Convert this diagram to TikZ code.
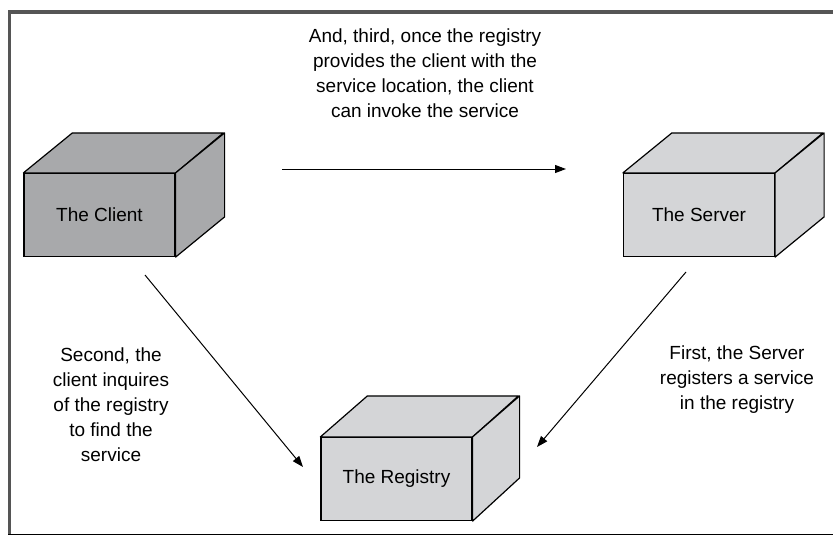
\documentclass[tikz,border=0pt]{standalone}
\usepackage{fontspec}
\setmainfont{Liberation Sans}
\usetikzlibrary{arrows.meta}
\definecolor{darkbox}{HTML}{A8A9AB}
\definecolor{lightbox}{HTML}{D4D5D7}
\definecolor{framegray}{HTML}{555555}
\tikzset{
  front/.style={draw=black, line width=1.2pt, minimum width=151pt, minimum height=83pt, inner sep=0pt, font=\fontsize{19pt}{23pt}\selectfont},
  face/.style={draw=black, line width=1.2pt, line join=round},
  conn/.style={line width=1pt, -{Triangle[length=11pt,width=8pt]}},
  caption/.style={align=center, font=\fontsize{19pt}{25pt}\selectfont, inner sep=0pt}
}
\begin{document}
\begin{tikzpicture}[x=1pt,y=-1pt]
\useasboundingbox (0,0) rectangle (833,536);
\fill[white] (0,0) rectangle (833,536);
% frame
\draw[framegray, line width=3.5pt] (8,12) -- (833,12);
\draw[framegray, line width=3pt] (9.5,10.5) -- (9.5,534);
\draw[black, line width=1pt] (8,534.5) -- (833,534.5);

% client cube
\node[front, fill=darkbox] (client) at (99.5,215) {The Client};
\fill[darkbox, face] (client.north west) -- ++(49,-40) -- ++(151,0) -- (client.north east) -- cycle;
\fill[darkbox, face] (client.north east) -- ++(49,-40) -- ++(0,84) -- (client.south east) -- cycle;

% server cube
\node[front, fill=lightbox] (server) at (699,215) {The Server};
\fill[lightbox, face] (server.north west) -- ++(49,-40) -- ++(151,0) -- (server.north east) -- cycle;
\fill[lightbox, face] (server.north east) -- ++(49,-40) -- ++(0,84) -- (server.south east) -- cycle;

% registry cube
\node[front, fill=lightbox] (registry) at (396.5,479) {The Registry};
\fill[lightbox, face] (registry.north west) -- ++(47,-41) -- ++(151,0) -- (registry.north east) -- cycle;
\fill[lightbox, face] (registry.north east) -- ++(47,-41) -- ++(0,82) -- (registry.south east) -- cycle;

% connectors
\coordinate (a1) at (282,169);
\coordinate (a2) at (566,169);
\coordinate (b1) at (145,275);
\coordinate (b2) at (303,467);
\coordinate (c1) at (686,272);
\coordinate (c2) at (537,447);
\draw[conn] (a1) -- (a2);
\draw[conn] (b1) -- (b2);
\draw[conn] (c1) -- (c2);

% captions
\node[caption] (t1) at (425,73) {And, third, once the registry\\provides the client with the\\service location, the client\\can invoke the service};
\node[caption] (t2) at (111,405) {Second, the\\client inquires\\of the registry\\to find the\\service};
\node[caption] (t3) at (737,380) {First, the Server\\registers a service\\in the registry};
\end{tikzpicture}
\end{document}
